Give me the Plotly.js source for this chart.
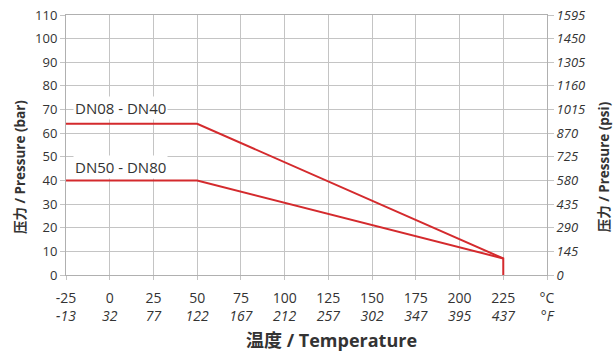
<!DOCTYPE html>
<html><head><meta charset="utf-8">
<script src="https://cdn.plot.ly/plotly-3.0.1.min.js"></script>
<style>html,body{margin:0;padding:0;background:#fff;}#chart{width:616px;height:355px;}</style>
</head><body><div id="chart"></div>
<script>
const celsiusTicks = [-25, 0, 25, 50, 75, 100, 125, 150, 175, 200, 225];
const fahrenheitTicks = ["-13", "32", "77", "122", "167", "212", "257", "302", "347", "395", "437"];
const barTicks = [0, 10, 20, 30, 40, 50, 60, 70, 80, 90, 100, 110];
const psiTicks = [0, 145, 290, 435, 580, 725, 870, 1015, 1160, 1305, 1450, 1595];

const smallTemp = [-25, 50, 225, 225];
const smallPressure = [64, 64, 7, 0];
const largeTemp = [-25, 50, 225];
const largePressure = [40, 40, 7];

const red = '#d42a2d';
const tickvals = celsiusTicks.concat([250]);
const ticktext = celsiusTicks.map((c, i) => c + '<br><i>' + fahrenheitTicks[i] + '</i>').concat(['°C<br><i>°F</i>']);

const traces = [
  {x: smallTemp, y: smallPressure, mode: 'lines', line: {color: red, width: 2}, name: 'DN08 - DN40', hoverinfo: 'skip'},
  {x: largeTemp, y: largePressure, mode: 'lines', line: {color: red, width: 2}, name: 'DN50 - DN80', hoverinfo: 'skip'},
  {x: [-25], y: [0], yaxis: 'y2', mode: 'markers', marker: {opacity: 0}, showlegend: false, hoverinfo: 'skip'}
];

const fam = 'Open Sans, sans-serif';
const camFam = 'Open Sans, Noto Sans CJK SC, sans-serif';
const titleFont = {family: camFam, size: 13.5, color: '#333'};
const layout = {
  width: 616, height: 355,
  margin: {l: 66, r: 69, t: 15, b: 80},
  paper_bgcolor: '#fff', plot_bgcolor: '#fff',
  showlegend: false,
  xaxis: {
    range: [-25, 250], tickvals: tickvals, ticktext: ticktext,
    showgrid: true, gridcolor: '#c4c4c4', gridwidth: 1,
    showline: true, linecolor: '#b0b0b0', mirror: true,
    ticks: 'outside', ticklen: 4, tickcolor: '#c4c4c4', ticklabelstandoff: 6,
    tickfont: {family: fam, size: 14, color: '#333'}, zeroline: false, fixedrange: true
  },
  yaxis: {
    range: [0, 110], tickvals: barTicks,
    showgrid: true, gridcolor: '#c4c4c4', gridwidth: 1,
    showline: true, linecolor: '#b0b0b0', mirror: true,
    ticks: 'outside', ticklen: 5, tickcolor: '#c4c4c4',
    tickfont: {family: fam, size: 13, color: '#333'}, zeroline: false, fixedrange: true
  },
  yaxis2: {
    overlaying: 'y', side: 'right', range: [0, 1595], tickvals: psiTicks,
    showgrid: false, zeroline: false, showline: false,
    ticks: 'outside', ticklen: 6, tickcolor: '#c4c4c4',
    tickfont: {family: fam, size: 13, color: '#333', style: 'italic'}, fixedrange: true
  },
  annotations: [
    {x: -21, y: 70.6, xref: 'x', yref: 'y', text: 'DN08 - DN40', showarrow: false, xanchor: 'left', yanchor: 'middle', bgcolor: '#fff', borderpad: 1, font: {family: fam, size: 15, color: '#333'}},
    {x: -21, y: 45.7, xref: 'x', yref: 'y', text: 'DN50 - DN80', showarrow: false, xanchor: 'left', yanchor: 'middle', bgcolor: '#fff', borderpad: 1, font: {family: fam, size: 15, color: '#333'}},
    {x: -0.0956, y: 0.415, xref: 'paper', yref: 'paper', text: '<b>压力 / Pressure (bar)</b>', textangle: -90, showarrow: false, xanchor: 'center', yanchor: 'middle', font: titleFont},
    {x: 1.119, y: 0.415, xref: 'paper', yref: 'paper', text: '<b>压力 / Pressure (psi)</b>', textangle: -90, showarrow: false, xanchor: 'center', yanchor: 'middle', font: titleFont},
    {x: 0.553, y: -0.25, xref: 'paper', yref: 'paper', text: '<b>温度 / Temperature</b>', showarrow: false, xanchor: 'center', yanchor: 'middle', font: {family: camFam, size: 18, color: '#333'}}
  ]
};
Plotly.newPlot('chart', traces, layout, {displayModeBar: false, staticPlot: true});
</script></body></html>
